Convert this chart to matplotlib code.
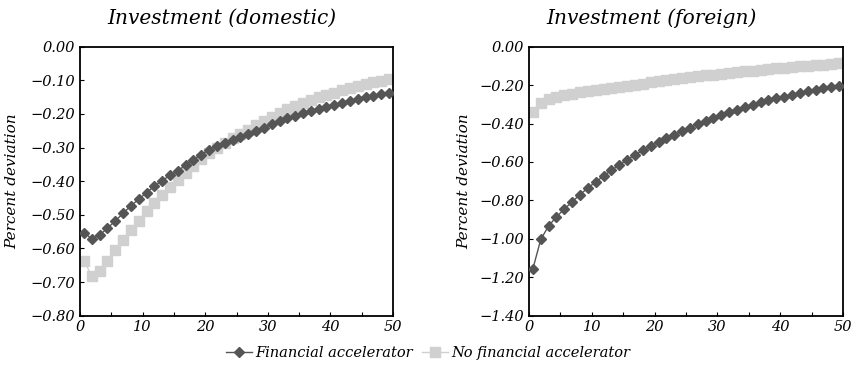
import numpy as np
import matplotlib
matplotlib.use("Agg")
import matplotlib.pyplot as plt
from matplotlib.ticker import FuncFormatter, MultipleLocator

plt.rcParams['font.family'] = ['DejaVu Serif']
plt.rcParams['font.style'] = 'italic'
plt.rcParams['mathtext.default'] = 'it'

# 40 quarters drawn on a 0-50 axis
quarters = np.arange(1, 41)
xpos = (quarters - 0.5) * 50 / 40

dom_fa = [-0.553, -0.571, -0.560, -0.540, -0.518, -0.496, -0.473, -0.454, -0.434, -0.415,
          -0.398, -0.383, -0.369, -0.352, -0.336, -0.321, -0.307, -0.295, -0.285, -0.278,
          -0.270, -0.261, -0.251, -0.241, -0.230, -0.221, -0.213, -0.205, -0.197, -0.190,
          -0.184, -0.178, -0.172, -0.166, -0.161, -0.156, -0.151, -0.146, -0.142, -0.137]
dom_nofa = [-0.636, -0.682, -0.667, -0.636, -0.606, -0.575, -0.545, -0.517, -0.490, -0.464,
            -0.440, -0.418, -0.396, -0.377, -0.356, -0.334, -0.317, -0.300, -0.286, -0.272,
            -0.260, -0.248, -0.233, -0.220, -0.208, -0.196, -0.186, -0.176, -0.166, -0.159,
            -0.151, -0.143, -0.137, -0.129, -0.123, -0.117, -0.111, -0.106, -0.101, -0.097]
for_fa = [-1.155, -1.003, -0.933, -0.885, -0.845, -0.807, -0.770, -0.735, -0.704, -0.673,
          -0.643, -0.616, -0.588, -0.564, -0.539, -0.517, -0.496, -0.477, -0.458, -0.439,
          -0.421, -0.403, -0.386, -0.370, -0.355, -0.341, -0.327, -0.314, -0.302, -0.290,
          -0.279, -0.269, -0.260, -0.250, -0.240, -0.231, -0.223, -0.216, -0.210, -0.205]
for_nofa = [-0.338, -0.295, -0.274, -0.260, -0.251, -0.245, -0.238, -0.231, -0.225, -0.218,
            -0.213, -0.208, -0.203, -0.198, -0.192, -0.186, -0.180, -0.175, -0.170, -0.164,
            -0.159, -0.154, -0.149, -0.145, -0.140, -0.136, -0.132, -0.128, -0.124, -0.120,
            -0.116, -0.112, -0.109, -0.105, -0.102, -0.099, -0.096, -0.093, -0.090, -0.087]

titles = ["Investment (domestic)", "Investment (foreign)"]
ylims = [(-0.80, 0.0), (-1.40, 0.0)]
ysteps = [0.10, 0.20]
labels = ["Financial accelerator", "No financial accelerator"]

dark = "#555555"
light = "#d0d0d0"

fig = plt.figure(figsize=(8.56, 3.68), dpi=100)
ax1 = fig.add_axes([80/856, 52.3/368, 313/856, 269/368])
ax2 = fig.add_axes([529/856, 52.3/368, 314/856, 269/368])

fmt = FuncFormatter(lambda v, p: ("%.2f" % v).replace("-", "\u2212") if abs(v) > 1e-9 else "0.00")

for ax, fa, nofa, title, ylim, ystep, tx in zip([ax1, ax2], [dom_fa, for_fa], [dom_nofa, for_nofa],
                                               titles, ylims, ysteps, [222, 651]):
    l1, = ax.plot(xpos, fa, color=dark, lw=1.0, marker="D", ms=5, mec=dark, mfc=dark, zorder=3)
    l2, = ax.plot(xpos, nofa, color=light, lw=1.0, marker="s", ms=7.5, mec=light, mfc=light, zorder=2)
    ax.set_xlim(0, 50)
    ax.set_ylim(*ylim)
    ax.xaxis.set_major_locator(MultipleLocator(10))
    ax.xaxis.set_minor_locator(MultipleLocator(5))
    ax.yaxis.set_major_locator(MultipleLocator(ystep))
    ax.yaxis.set_major_formatter(fmt)
    ax.tick_params(which="both", direction="in", length=3, width=0.8, labelsize=10.5, top=False, right=False)
    ax.tick_params(axis="x", pad=3)
    for s in ax.spines.values():
        s.set_linewidth(1.3)
    ax.set_ylabel("Percent deviation", fontsize=11)
    fig.text(tx/856, 1 - 18/368, title, ha="center", va="center", fontsize=14.5)

ax1.yaxis.set_label_coords(-0.194, 0.5)
ax2.yaxis.set_label_coords(-0.185, 0.5)

fig.legend([l1, l2], labels, loc="center", bbox_to_anchor=(0.5, 1 - 353/368), ncol=2, frameon=False,
           fontsize=10.5, handlelength=1.8, handletextpad=0.2, columnspacing=0.6, borderaxespad=0)

fig.savefig("out.png", dpi=100)
